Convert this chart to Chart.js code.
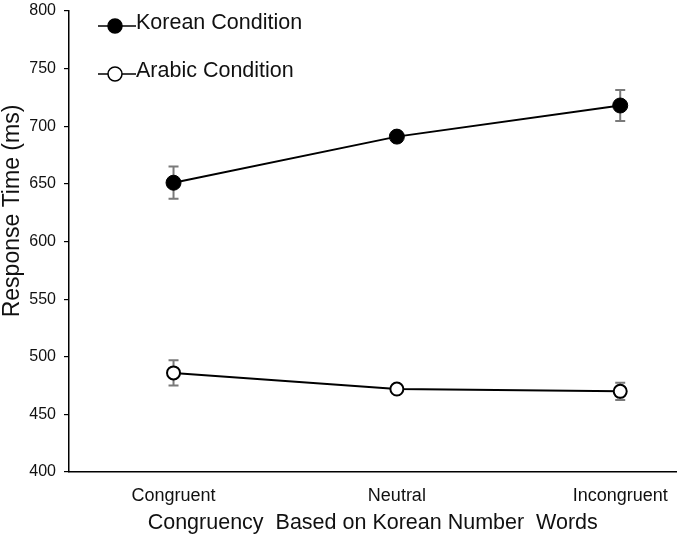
<!DOCTYPE html>
<html>
<head>
<meta charset="utf-8">
<script src="https://cdn.jsdelivr.net/npm/chart.js@4/dist/chart.umd.min.js"></script>
<style>
html,body{margin:0;padding:0;background:#fff;}
#wrap{width:685px;height:539px;position:relative;}
</style>
</head>
<body>
<div id="wrap"><canvas id="c" width="685" height="539"></canvas></div>
<script>
const categories = ["Congruent", "Neutral", "Incongruent"];
const koreanValues = [651, 691, 718];
const koreanErrors = [14, 4, 13.5];
const arabicValues = [486, 472, 470];
const arabicErrors = [11, 3, 7.5];
const seriesNames = ["Korean Condition", "Arabic Condition"];
const yTicks = [400, 450, 500, 550, 600, 650, 700, 750, 800];
const yTitle = "Response Time (ms)";

const FONT = "'Liberation Sans', Arial, sans-serif";

const errorBarPlugin = {
  id: 'errorBars',
  beforeDatasetsDraw(chart) {
    const ctx = chart.ctx;
    const ys = chart.scales.y, xs = chart.scales.x;
    chart.data.datasets.forEach(ds => {
      ds.data.forEach((p, i) => {
        const err = ds.errors[i];
        const x = xs.getPixelForValue(p.x);
        const yt = ys.getPixelForValue(p.y + err);
        const yb = ys.getPixelForValue(p.y - err);
        ctx.save();
        ctx.strokeStyle = '#7a7a7a';
        ctx.lineWidth = 2;
        ctx.beginPath();
        ctx.moveTo(x, yt); ctx.lineTo(x, yb);
        ctx.moveTo(x - 5, yt); ctx.lineTo(x + 5, yt);
        ctx.moveTo(x - 5, yb); ctx.lineTo(x + 5, yb);
        ctx.stroke();
        ctx.restore();
      });
    });
  }
};

const legendPlugin = {
  id: 'customLegend',
  afterDraw(chart) {
    const ctx = chart.ctx;
    const items = [
      {name: seriesNames[0], fill: '#000', y: 26},
      {name: seriesNames[1], fill: '#fff', y: 74}
    ];
    items.forEach(it => {
      ctx.save();
      ctx.strokeStyle = '#000';
      ctx.lineWidth = 1.5;
      ctx.beginPath();
      ctx.moveTo(98, it.y); ctx.lineTo(136, it.y);
      ctx.stroke();
      ctx.beginPath();
      ctx.arc(115, it.y, 7, 0, Math.PI * 2);
      ctx.fillStyle = it.fill;
      ctx.fill();
      ctx.lineWidth = 1.5;
      ctx.stroke();
      ctx.fillStyle = '#111';
      ctx.font = "21.5px " + FONT;
      ctx.textBaseline = 'middle';
      ctx.textAlign = 'left';
      ctx.fillText(it.name, 136, it.y - 3);
      ctx.restore();
    });
    // y-axis title
    ctx.save();
    ctx.translate(13, 211);
    ctx.rotate(-Math.PI / 2);
    ctx.fillStyle = '#111';
    ctx.font = "23px " + FONT;
    ctx.textAlign = 'center';
    ctx.textBaseline = 'middle';
    ctx.fillText(yTitle, 0, 0);
    ctx.restore();
  }
};

new Chart(document.getElementById('c'), {
  type: 'line',
  data: {
    datasets: [
      {
        label: seriesNames[0],
        data: categories.map((c, i) => ({x: i, y: koreanValues[i]})),
        errors: koreanErrors,
        borderColor: '#000',
        borderWidth: 2,
        backgroundColor: '#000',
        pointBackgroundColor: '#000',
        pointBorderColor: '#000',
        pointBorderWidth: 1,
        pointRadius: 7.5,
        tension: 0
      },
      {
        label: seriesNames[1],
        data: categories.map((c, i) => ({x: i, y: arabicValues[i]})),
        errors: arabicErrors,
        borderColor: '#000',
        borderWidth: 2,
        backgroundColor: '#fff',
        pointBackgroundColor: '#fff',
        pointBorderColor: '#000',
        pointBorderWidth: 2,
        pointRadius: 6.5,
        tension: 0
      }
    ]
  },
  options: {
    responsive: false,
    animation: false,
    devicePixelRatio: 1,
    layout: {padding: {top: 11, right: 0, left: 0, bottom: 0}},
    plugins: {legend: {display: false}, tooltip: {enabled: false}},
    scales: {
      x: {
        type: 'linear',
        min: -0.468,
        max: 2.252,
        afterBuildTicks(scale) { scale.ticks = categories.map((c, i) => ({value: i})); },
        afterFit(scale) { scale.height = 67; scale.paddingLeft = 0; scale.paddingRight = 0; },
        ticks: {
          callback: (v) => categories[v],
          color: '#111',
          font: {family: FONT, size: 18},
          padding: 13,
          maxRotation: 0,
          autoSkip: false
        },
        grid: {display: false, drawTicks: false},
        border: {display: true, color: '#000', width: 1.5},
        title: {
          display: true,
          text: 'Congruency  Based on Korean Number  Words',
          color: '#111',
          font: {family: FONT, size: 21.5},
          padding: {top: 1, bottom: 3}
        }
      },
      y: {
        min: 400,
        max: 800,
        afterBuildTicks(scale) { scale.ticks = yTicks.map(v => ({value: v})); },
        afterFit(scale) { scale.width = 69; scale.paddingTop = 0; scale.paddingBottom = 0; },
        ticks: {
          color: '#111',
          font: {family: FONT, size: 16},
          padding: 8
        },
        grid: {display: true, drawOnChartArea: false, drawTicks: true, tickLength: 5, color: '#000', lineWidth: 1.2},
        border: {display: true, color: '#000', width: 1.5},
        title: {display: false}
      }
    }
  },
  plugins: [errorBarPlugin, legendPlugin]
});
</script>
</body>
</html>
